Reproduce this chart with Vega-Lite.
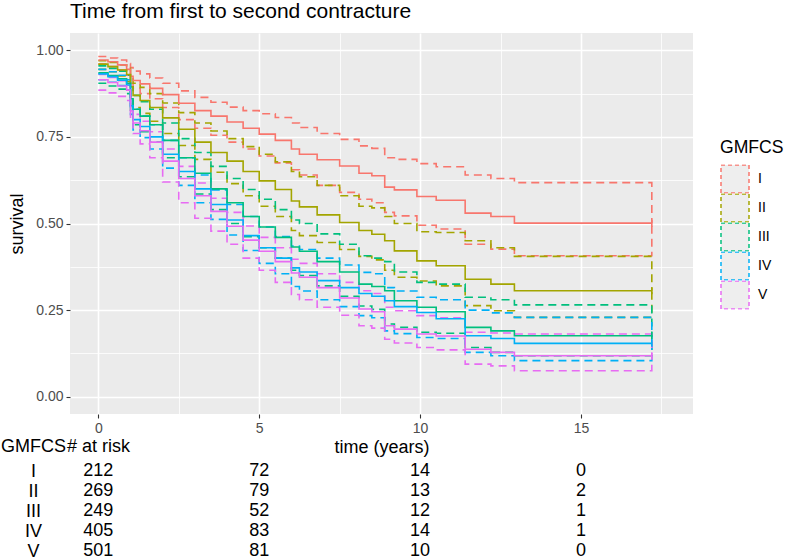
{
"$schema": "https://vega.github.io/schema/vega-lite/v6.json",
"padding": {"left": 0, "top": 1, "right": 0, "bottom": 0},
"background": "white",
"config": {
  "font": "Liberation Sans",
  "view": {"stroke": null},
  "axis": {"labelFont": "Liberation Sans", "titleFont": "Liberation Sans", "titleFontWeight": "normal"}
},
"bounds": "flush",
"spacing": 47,
"title": {"text": "Time from first to second contracture", "anchor": "start", "frame": "group", "fontSize": 21, "fontWeight": "normal", "color": "black", "baseline": "alphabetic", "offset": -6, "font": "Liberation Sans"},
"datasets": {
"risk": [
{"group":"I","t":0,"n":212},{"group":"I","t":5,"n":72},{"group":"I","t":10,"n":14},{"group":"I","t":15,"n":0},
{"group":"II","t":0,"n":269},{"group":"II","t":5,"n":79},{"group":"II","t":10,"n":13},{"group":"II","t":15,"n":2},
{"group":"III","t":0,"n":249},{"group":"III","t":5,"n":52},{"group":"III","t":10,"n":12},{"group":"III","t":15,"n":1},
{"group":"IV","t":0,"n":405},{"group":"IV","t":5,"n":83},{"group":"IV","t":10,"n":14},{"group":"IV","t":15,"n":1},
{"group":"V","t":0,"n":501},{"group":"V","t":5,"n":81},{"group":"V","t":10,"n":10},{"group":"V","t":15,"n":0}
],
"surv": [
{"group":"I","curve":"est","t":0,"s":0.972},{"group":"I","curve":"est","t":0.3,"s":0.967},{"group":"I","curve":"est","t":0.6,"s":0.958},{"group":"I","curve":"est","t":0.88,"s":0.945},{"group":"I","curve":"est","t":1,"s":0.925},{"group":"I","curve":"est","t":1.08,"s":0.913},{"group":"I","curve":"est","t":1.3,"s":0.903},{"group":"I","curve":"est","t":1.6,"s":0.89},{"group":"I","curve":"est","t":2,"s":0.872},{"group":"I","curve":"est","t":2.5,"s":0.847},{"group":"I","curve":"est","t":3,"s":0.826},{"group":"I","curve":"est","t":3.5,"s":0.81},{"group":"I","curve":"est","t":4,"s":0.793},{"group":"I","curve":"est","t":4.5,"s":0.775},{"group":"I","curve":"est","t":5,"s":0.758},{"group":"I","curve":"est","t":5.5,"s":0.74},{"group":"I","curve":"est","t":6,"s":0.715},{"group":"I","curve":"est","t":6.25,"s":0.7},{"group":"I","curve":"est","t":6.8,"s":0.684},{"group":"I","curve":"est","t":7.5,"s":0.666},{"group":"I","curve":"est","t":8.1,"s":0.645},{"group":"I","curve":"est","t":8.5,"s":0.638},{"group":"I","curve":"est","t":8.9,"s":0.605},{"group":"I","curve":"est","t":9.2,"s":0.597},{"group":"I","curve":"est","t":9.9,"s":0.578},{"group":"I","curve":"est","t":10.5,"s":0.567},{"group":"I","curve":"est","t":11.4,"s":0.53},{"group":"I","curve":"est","t":12.2,"s":0.52},{"group":"I","curve":"est","t":12.93,"s":0.501},{"group":"I","curve":"est","t":17.2,"s":0.501},
{"group":"I","curve":"upper","t":0,"s":0.982},{"group":"I","curve":"upper","t":0.3,"s":0.978},{"group":"I","curve":"upper","t":0.6,"s":0.972},{"group":"I","curve":"upper","t":0.88,"s":0.962},{"group":"I","curve":"upper","t":1,"s":0.95},{"group":"I","curve":"upper","t":1.08,"s":0.94},{"group":"I","curve":"upper","t":1.3,"s":0.932},{"group":"I","curve":"upper","t":1.6,"s":0.92},{"group":"I","curve":"upper","t":2,"s":0.905},{"group":"I","curve":"upper","t":2.5,"s":0.883},{"group":"I","curve":"upper","t":3,"s":0.864},{"group":"I","curve":"upper","t":3.5,"s":0.85},{"group":"I","curve":"upper","t":4,"s":0.836},{"group":"I","curve":"upper","t":4.5,"s":0.826},{"group":"I","curve":"upper","t":5,"s":0.817},{"group":"I","curve":"upper","t":5.5,"s":0.806},{"group":"I","curve":"upper","t":6,"s":0.79},{"group":"I","curve":"upper","t":6.25,"s":0.777},{"group":"I","curve":"upper","t":6.8,"s":0.76},{"group":"I","curve":"upper","t":7.5,"s":0.743},{"group":"I","curve":"upper","t":8.1,"s":0.724},{"group":"I","curve":"upper","t":8.5,"s":0.717},{"group":"I","curve":"upper","t":8.9,"s":0.69},{"group":"I","curve":"upper","t":9.2,"s":0.685},{"group":"I","curve":"upper","t":9.9,"s":0.673},{"group":"I","curve":"upper","t":10.5,"s":0.664},{"group":"I","curve":"upper","t":11.4,"s":0.64},{"group":"I","curve":"upper","t":12.2,"s":0.63},{"group":"I","curve":"upper","t":12.93,"s":0.618},{"group":"I","curve":"upper","t":17.2,"s":0.501},
{"group":"I","curve":"lower","t":0,"s":0.96},{"group":"I","curve":"lower","t":0.3,"s":0.953},{"group":"I","curve":"lower","t":0.6,"s":0.943},{"group":"I","curve":"lower","t":0.88,"s":0.928},{"group":"I","curve":"lower","t":1,"s":0.905},{"group":"I","curve":"lower","t":1.08,"s":0.89},{"group":"I","curve":"lower","t":1.3,"s":0.875},{"group":"I","curve":"lower","t":1.6,"s":0.86},{"group":"I","curve":"lower","t":2,"s":0.835},{"group":"I","curve":"lower","t":2.5,"s":0.8},{"group":"I","curve":"lower","t":3,"s":0.775},{"group":"I","curve":"lower","t":3.5,"s":0.755},{"group":"I","curve":"lower","t":4,"s":0.735},{"group":"I","curve":"lower","t":4.5,"s":0.715},{"group":"I","curve":"lower","t":5,"s":0.695},{"group":"I","curve":"lower","t":5.5,"s":0.675},{"group":"I","curve":"lower","t":6,"s":0.655},{"group":"I","curve":"lower","t":6.25,"s":0.64},{"group":"I","curve":"lower","t":6.8,"s":0.61},{"group":"I","curve":"lower","t":7.5,"s":0.59},{"group":"I","curve":"lower","t":8.1,"s":0.57},{"group":"I","curve":"lower","t":8.5,"s":0.56},{"group":"I","curve":"lower","t":8.9,"s":0.532},{"group":"I","curve":"lower","t":9.2,"s":0.522},{"group":"I","curve":"lower","t":9.9,"s":0.495},{"group":"I","curve":"lower","t":10.5,"s":0.484},{"group":"I","curve":"lower","t":11.4,"s":0.44},{"group":"I","curve":"lower","t":12.2,"s":0.426},{"group":"I","curve":"lower","t":12.93,"s":0.407},{"group":"I","curve":"lower","t":17.2,"s":0.501},
{"group":"II","curve":"est","t":0,"s":0.96},{"group":"II","curve":"est","t":0.3,"s":0.953},{"group":"II","curve":"est","t":0.6,"s":0.943},{"group":"II","curve":"est","t":0.88,"s":0.93},{"group":"II","curve":"est","t":1,"s":0.895},{"group":"II","curve":"est","t":1.08,"s":0.87},{"group":"II","curve":"est","t":1.3,"s":0.855},{"group":"II","curve":"est","t":1.6,"s":0.835},{"group":"II","curve":"est","t":2,"s":0.805},{"group":"II","curve":"est","t":2.5,"s":0.772},{"group":"II","curve":"est","t":3,"s":0.735},{"group":"II","curve":"est","t":3.5,"s":0.705},{"group":"II","curve":"est","t":4,"s":0.68},{"group":"II","curve":"est","t":4.5,"s":0.65},{"group":"II","curve":"est","t":5,"s":0.623},{"group":"II","curve":"est","t":5.5,"s":0.598},{"group":"II","curve":"est","t":6,"s":0.565},{"group":"II","curve":"est","t":6.25,"s":0.548},{"group":"II","curve":"est","t":6.8,"s":0.525},{"group":"II","curve":"est","t":7.5,"s":0.503},{"group":"II","curve":"est","t":8.1,"s":0.48},{"group":"II","curve":"est","t":8.5,"s":0.469},{"group":"II","curve":"est","t":8.9,"s":0.45},{"group":"II","curve":"est","t":9.2,"s":0.421},{"group":"II","curve":"est","t":9.9,"s":0.392},{"group":"II","curve":"est","t":10.5,"s":0.378},{"group":"II","curve":"est","t":11.4,"s":0.339},{"group":"II","curve":"est","t":12.2,"s":0.325},{"group":"II","curve":"est","t":12.93,"s":0.306},{"group":"II","curve":"est","t":17.2,"s":0.306},
{"group":"II","curve":"upper","t":0,"s":0.97},{"group":"II","curve":"upper","t":0.3,"s":0.965},{"group":"II","curve":"upper","t":0.6,"s":0.958},{"group":"II","curve":"upper","t":0.88,"s":0.948},{"group":"II","curve":"upper","t":1,"s":0.925},{"group":"II","curve":"upper","t":1.08,"s":0.905},{"group":"II","curve":"upper","t":1.3,"s":0.893},{"group":"II","curve":"upper","t":1.6,"s":0.875},{"group":"II","curve":"upper","t":2,"s":0.848},{"group":"II","curve":"upper","t":2.5,"s":0.82},{"group":"II","curve":"upper","t":3,"s":0.79},{"group":"II","curve":"upper","t":3.5,"s":0.767},{"group":"II","curve":"upper","t":4,"s":0.745},{"group":"II","curve":"upper","t":4.5,"s":0.722},{"group":"II","curve":"upper","t":5,"s":0.7},{"group":"II","curve":"upper","t":5.5,"s":0.678},{"group":"II","curve":"upper","t":6,"s":0.65},{"group":"II","curve":"upper","t":6.25,"s":0.635},{"group":"II","curve":"upper","t":6.8,"s":0.61},{"group":"II","curve":"upper","t":7.5,"s":0.58},{"group":"II","curve":"upper","t":8.1,"s":0.55},{"group":"II","curve":"upper","t":8.5,"s":0.545},{"group":"II","curve":"upper","t":8.9,"s":0.52},{"group":"II","curve":"upper","t":9.2,"s":0.5},{"group":"II","curve":"upper","t":9.9,"s":0.476},{"group":"II","curve":"upper","t":10.5,"s":0.474},{"group":"II","curve":"upper","t":11.4,"s":0.45},{"group":"II","curve":"upper","t":12.2,"s":0.43},{"group":"II","curve":"upper","t":12.93,"s":0.405},{"group":"II","curve":"upper","t":17.2,"s":0.306},
{"group":"II","curve":"lower","t":0,"s":0.945},{"group":"II","curve":"lower","t":0.3,"s":0.938},{"group":"II","curve":"lower","t":0.6,"s":0.926},{"group":"II","curve":"lower","t":0.88,"s":0.91},{"group":"II","curve":"lower","t":1,"s":0.865},{"group":"II","curve":"lower","t":1.08,"s":0.835},{"group":"II","curve":"lower","t":1.3,"s":0.818},{"group":"II","curve":"lower","t":1.6,"s":0.795},{"group":"II","curve":"lower","t":2,"s":0.76},{"group":"II","curve":"lower","t":2.5,"s":0.725},{"group":"II","curve":"lower","t":3,"s":0.685},{"group":"II","curve":"lower","t":3.5,"s":0.648},{"group":"II","curve":"lower","t":4,"s":0.615},{"group":"II","curve":"lower","t":4.5,"s":0.58},{"group":"II","curve":"lower","t":5,"s":0.55},{"group":"II","curve":"lower","t":5.5,"s":0.52},{"group":"II","curve":"lower","t":6,"s":0.48},{"group":"II","curve":"lower","t":6.25,"s":0.465},{"group":"II","curve":"lower","t":6.8,"s":0.445},{"group":"II","curve":"lower","t":7.5,"s":0.425},{"group":"II","curve":"lower","t":8.1,"s":0.405},{"group":"II","curve":"lower","t":8.5,"s":0.395},{"group":"II","curve":"lower","t":8.9,"s":0.365},{"group":"II","curve":"lower","t":9.2,"s":0.345},{"group":"II","curve":"lower","t":9.9,"s":0.334},{"group":"II","curve":"lower","t":10.5,"s":0.32},{"group":"II","curve":"lower","t":11.4,"s":0.263},{"group":"II","curve":"lower","t":12.2,"s":0.248},{"group":"II","curve":"lower","t":12.93,"s":0.229},{"group":"II","curve":"lower","t":17.2,"s":0.306},
{"group":"III","curve":"est","t":0,"s":0.935},{"group":"III","curve":"est","t":0.3,"s":0.927},{"group":"III","curve":"est","t":0.6,"s":0.918},{"group":"III","curve":"est","t":0.88,"s":0.905},{"group":"III","curve":"est","t":1,"s":0.86},{"group":"III","curve":"est","t":1.08,"s":0.83},{"group":"III","curve":"est","t":1.3,"s":0.81},{"group":"III","curve":"est","t":1.6,"s":0.785},{"group":"III","curve":"est","t":2,"s":0.74},{"group":"III","curve":"est","t":2.5,"s":0.69},{"group":"III","curve":"est","t":3,"s":0.645},{"group":"III","curve":"est","t":3.5,"s":0.6},{"group":"III","curve":"est","t":4,"s":0.56},{"group":"III","curve":"est","t":4.5,"s":0.52},{"group":"III","curve":"est","t":5,"s":0.49},{"group":"III","curve":"est","t":5.5,"s":0.46},{"group":"III","curve":"est","t":6,"s":0.432},{"group":"III","curve":"est","t":6.25,"s":0.42},{"group":"III","curve":"est","t":6.8,"s":0.39},{"group":"III","curve":"est","t":7.5,"s":0.36},{"group":"III","curve":"est","t":8.1,"s":0.325},{"group":"III","curve":"est","t":8.5,"s":0.318},{"group":"III","curve":"est","t":8.9,"s":0.306},{"group":"III","curve":"est","t":9.2,"s":0.277},{"group":"III","curve":"est","t":9.9,"s":0.258},{"group":"III","curve":"est","t":10.5,"s":0.245},{"group":"III","curve":"est","t":11.4,"s":0.2},{"group":"III","curve":"est","t":12.2,"s":0.19},{"group":"III","curve":"est","t":12.93,"s":0.176},{"group":"III","curve":"est","t":17.2,"s":0.176},
{"group":"III","curve":"upper","t":0,"s":0.955},{"group":"III","curve":"upper","t":0.3,"s":0.948},{"group":"III","curve":"upper","t":0.6,"s":0.94},{"group":"III","curve":"upper","t":0.88,"s":0.928},{"group":"III","curve":"upper","t":1,"s":0.895},{"group":"III","curve":"upper","t":1.08,"s":0.87},{"group":"III","curve":"upper","t":1.3,"s":0.852},{"group":"III","curve":"upper","t":1.6,"s":0.83},{"group":"III","curve":"upper","t":2,"s":0.79},{"group":"III","curve":"upper","t":2.5,"s":0.745},{"group":"III","curve":"upper","t":3,"s":0.705},{"group":"III","curve":"upper","t":3.5,"s":0.665},{"group":"III","curve":"upper","t":4,"s":0.63},{"group":"III","curve":"upper","t":4.5,"s":0.598},{"group":"III","curve":"upper","t":5,"s":0.57},{"group":"III","curve":"upper","t":5.5,"s":0.54},{"group":"III","curve":"upper","t":6,"s":0.51},{"group":"III","curve":"upper","t":6.25,"s":0.5},{"group":"III","curve":"upper","t":6.8,"s":0.47},{"group":"III","curve":"upper","t":7.5,"s":0.44},{"group":"III","curve":"upper","t":8.1,"s":0.407},{"group":"III","curve":"upper","t":8.5,"s":0.4},{"group":"III","curve":"upper","t":8.9,"s":0.39},{"group":"III","curve":"upper","t":9.2,"s":0.36},{"group":"III","curve":"upper","t":9.9,"s":0.33},{"group":"III","curve":"upper","t":10.5,"s":0.325},{"group":"III","curve":"upper","t":11.4,"s":0.287},{"group":"III","curve":"upper","t":12.2,"s":0.28},{"group":"III","curve":"upper","t":12.93,"s":0.265},{"group":"III","curve":"upper","t":17.2,"s":0.176},
{"group":"III","curve":"lower","t":0,"s":0.905},{"group":"III","curve":"lower","t":0.3,"s":0.897},{"group":"III","curve":"lower","t":0.6,"s":0.888},{"group":"III","curve":"lower","t":0.88,"s":0.875},{"group":"III","curve":"lower","t":1,"s":0.82},{"group":"III","curve":"lower","t":1.08,"s":0.785},{"group":"III","curve":"lower","t":1.3,"s":0.765},{"group":"III","curve":"lower","t":1.6,"s":0.735},{"group":"III","curve":"lower","t":2,"s":0.69},{"group":"III","curve":"lower","t":2.5,"s":0.635},{"group":"III","curve":"lower","t":3,"s":0.585},{"group":"III","curve":"lower","t":3.5,"s":0.54},{"group":"III","curve":"lower","t":4,"s":0.5},{"group":"III","curve":"lower","t":4.5,"s":0.462},{"group":"III","curve":"lower","t":5,"s":0.43},{"group":"III","curve":"lower","t":5.5,"s":0.4},{"group":"III","curve":"lower","t":6,"s":0.365},{"group":"III","curve":"lower","t":6.25,"s":0.35},{"group":"III","curve":"lower","t":6.8,"s":0.32},{"group":"III","curve":"lower","t":7.5,"s":0.29},{"group":"III","curve":"lower","t":8.1,"s":0.262},{"group":"III","curve":"lower","t":8.5,"s":0.252},{"group":"III","curve":"lower","t":8.9,"s":0.21},{"group":"III","curve":"lower","t":9.2,"s":0.2},{"group":"III","curve":"lower","t":9.9,"s":0.186},{"group":"III","curve":"lower","t":10.5,"s":0.183},{"group":"III","curve":"lower","t":11.4,"s":0.142},{"group":"III","curve":"lower","t":12.2,"s":0.128},{"group":"III","curve":"lower","t":12.93,"s":0.118},{"group":"III","curve":"lower","t":17.2,"s":0.176},
{"group":"IV","curve":"est","t":0,"s":0.932},{"group":"IV","curve":"est","t":0.3,"s":0.924},{"group":"IV","curve":"est","t":0.6,"s":0.914},{"group":"IV","curve":"est","t":0.88,"s":0.9},{"group":"IV","curve":"est","t":1,"s":0.84},{"group":"IV","curve":"est","t":1.08,"s":0.8},{"group":"IV","curve":"est","t":1.3,"s":0.78},{"group":"IV","curve":"est","t":1.6,"s":0.75},{"group":"IV","curve":"est","t":2,"s":0.7},{"group":"IV","curve":"est","t":2.5,"s":0.65},{"group":"IV","curve":"est","t":3,"s":0.6},{"group":"IV","curve":"est","t":3.5,"s":0.555},{"group":"IV","curve":"est","t":4,"s":0.51},{"group":"IV","curve":"est","t":4.5,"s":0.465},{"group":"IV","curve":"est","t":5,"s":0.43},{"group":"IV","curve":"est","t":5.5,"s":0.4},{"group":"IV","curve":"est","t":6,"s":0.372},{"group":"IV","curve":"est","t":6.25,"s":0.36},{"group":"IV","curve":"est","t":6.8,"s":0.335},{"group":"IV","curve":"est","t":7.5,"s":0.315},{"group":"IV","curve":"est","t":8.1,"s":0.298},{"group":"IV","curve":"est","t":8.5,"s":0.29},{"group":"IV","curve":"est","t":8.9,"s":0.277},{"group":"IV","curve":"est","t":9.2,"s":0.26},{"group":"IV","curve":"est","t":9.9,"s":0.243},{"group":"IV","curve":"est","t":10.5,"s":0.225},{"group":"IV","curve":"est","t":11.4,"s":0.176},{"group":"IV","curve":"est","t":12.2,"s":0.168},{"group":"IV","curve":"est","t":12.93,"s":0.154},{"group":"IV","curve":"est","t":17.2,"s":0.154},
{"group":"IV","curve":"upper","t":0,"s":0.945},{"group":"IV","curve":"upper","t":0.3,"s":0.938},{"group":"IV","curve":"upper","t":0.6,"s":0.928},{"group":"IV","curve":"upper","t":0.88,"s":0.915},{"group":"IV","curve":"upper","t":1,"s":0.865},{"group":"IV","curve":"upper","t":1.08,"s":0.83},{"group":"IV","curve":"upper","t":1.3,"s":0.81},{"group":"IV","curve":"upper","t":1.6,"s":0.785},{"group":"IV","curve":"upper","t":2,"s":0.74},{"group":"IV","curve":"upper","t":2.5,"s":0.69},{"group":"IV","curve":"upper","t":3,"s":0.64},{"group":"IV","curve":"upper","t":3.5,"s":0.597},{"group":"IV","curve":"upper","t":4,"s":0.555},{"group":"IV","curve":"upper","t":4.5,"s":0.52},{"group":"IV","curve":"upper","t":5,"s":0.49},{"group":"IV","curve":"upper","t":5.5,"s":0.462},{"group":"IV","curve":"upper","t":6,"s":0.435},{"group":"IV","curve":"upper","t":6.25,"s":0.425},{"group":"IV","curve":"upper","t":6.8,"s":0.4},{"group":"IV","curve":"upper","t":7.5,"s":0.38},{"group":"IV","curve":"upper","t":8.1,"s":0.359},{"group":"IV","curve":"upper","t":8.5,"s":0.355},{"group":"IV","curve":"upper","t":8.9,"s":0.315},{"group":"IV","curve":"upper","t":9.2,"s":0.305},{"group":"IV","curve":"upper","t":9.9,"s":0.287},{"group":"IV","curve":"upper","t":10.5,"s":0.28},{"group":"IV","curve":"upper","t":11.4,"s":0.25},{"group":"IV","curve":"upper","t":12.2,"s":0.242},{"group":"IV","curve":"upper","t":12.93,"s":0.229},{"group":"IV","curve":"upper","t":17.2,"s":0.154},
{"group":"IV","curve":"lower","t":0,"s":0.915},{"group":"IV","curve":"lower","t":0.3,"s":0.908},{"group":"IV","curve":"lower","t":0.6,"s":0.898},{"group":"IV","curve":"lower","t":0.88,"s":0.885},{"group":"IV","curve":"lower","t":1,"s":0.815},{"group":"IV","curve":"lower","t":1.08,"s":0.77},{"group":"IV","curve":"lower","t":1.3,"s":0.748},{"group":"IV","curve":"lower","t":1.6,"s":0.715},{"group":"IV","curve":"lower","t":2,"s":0.66},{"group":"IV","curve":"lower","t":2.5,"s":0.61},{"group":"IV","curve":"lower","t":3,"s":0.56},{"group":"IV","curve":"lower","t":3.5,"s":0.512},{"group":"IV","curve":"lower","t":4,"s":0.467},{"group":"IV","curve":"lower","t":4.5,"s":0.422},{"group":"IV","curve":"lower","t":5,"s":0.385},{"group":"IV","curve":"lower","t":5.5,"s":0.355},{"group":"IV","curve":"lower","t":6,"s":0.318},{"group":"IV","curve":"lower","t":6.25,"s":0.305},{"group":"IV","curve":"lower","t":6.8,"s":0.28},{"group":"IV","curve":"lower","t":7.5,"s":0.26},{"group":"IV","curve":"lower","t":8.1,"s":0.234},{"group":"IV","curve":"lower","t":8.5,"s":0.228},{"group":"IV","curve":"lower","t":8.9,"s":0.19},{"group":"IV","curve":"lower","t":9.2,"s":0.182},{"group":"IV","curve":"lower","t":9.9,"s":0.171},{"group":"IV","curve":"lower","t":10.5,"s":0.168},{"group":"IV","curve":"lower","t":11.4,"s":0.128},{"group":"IV","curve":"lower","t":12.2,"s":0.118},{"group":"IV","curve":"lower","t":12.93,"s":0.104},{"group":"IV","curve":"lower","t":17.2,"s":0.154},
{"group":"V","curve":"est","t":0,"s":0.915},{"group":"V","curve":"est","t":0.3,"s":0.907},{"group":"V","curve":"est","t":0.6,"s":0.897},{"group":"V","curve":"est","t":0.88,"s":0.885},{"group":"V","curve":"est","t":1,"s":0.825},{"group":"V","curve":"est","t":1.08,"s":0.79},{"group":"V","curve":"est","t":1.3,"s":0.768},{"group":"V","curve":"est","t":1.6,"s":0.735},{"group":"V","curve":"est","t":2,"s":0.68},{"group":"V","curve":"est","t":2.5,"s":0.63},{"group":"V","curve":"est","t":3,"s":0.58},{"group":"V","curve":"est","t":3.5,"s":0.535},{"group":"V","curve":"est","t":4,"s":0.492},{"group":"V","curve":"est","t":4.5,"s":0.452},{"group":"V","curve":"est","t":5,"s":0.42},{"group":"V","curve":"est","t":5.5,"s":0.39},{"group":"V","curve":"est","t":6,"s":0.357},{"group":"V","curve":"est","t":6.25,"s":0.345},{"group":"V","curve":"est","t":6.8,"s":0.315},{"group":"V","curve":"est","t":7.5,"s":0.285},{"group":"V","curve":"est","t":8.1,"s":0.253},{"group":"V","curve":"est","t":8.5,"s":0.245},{"group":"V","curve":"est","t":8.9,"s":0.205},{"group":"V","curve":"est","t":9.2,"s":0.195},{"group":"V","curve":"est","t":9.9,"s":0.181},{"group":"V","curve":"est","t":10.5,"s":0.175},{"group":"V","curve":"est","t":11.4,"s":0.137},{"group":"V","curve":"est","t":12.2,"s":0.128},{"group":"V","curve":"est","t":12.93,"s":0.118},{"group":"V","curve":"est","t":17.2,"s":0.118},
{"group":"V","curve":"upper","t":0,"s":0.93},{"group":"V","curve":"upper","t":0.3,"s":0.922},{"group":"V","curve":"upper","t":0.6,"s":0.912},{"group":"V","curve":"upper","t":0.88,"s":0.9},{"group":"V","curve":"upper","t":1,"s":0.848},{"group":"V","curve":"upper","t":1.08,"s":0.815},{"group":"V","curve":"upper","t":1.3,"s":0.795},{"group":"V","curve":"upper","t":1.6,"s":0.765},{"group":"V","curve":"upper","t":2,"s":0.715},{"group":"V","curve":"upper","t":2.5,"s":0.665},{"group":"V","curve":"upper","t":3,"s":0.617},{"group":"V","curve":"upper","t":3.5,"s":0.573},{"group":"V","curve":"upper","t":4,"s":0.532},{"group":"V","curve":"upper","t":4.5,"s":0.493},{"group":"V","curve":"upper","t":5,"s":0.46},{"group":"V","curve":"upper","t":5.5,"s":0.43},{"group":"V","curve":"upper","t":6,"s":0.397},{"group":"V","curve":"upper","t":6.25,"s":0.385},{"group":"V","curve":"upper","t":6.8,"s":0.355},{"group":"V","curve":"upper","t":7.5,"s":0.33},{"group":"V","curve":"upper","t":8.1,"s":0.306},{"group":"V","curve":"upper","t":8.5,"s":0.298},{"group":"V","curve":"upper","t":8.9,"s":0.258},{"group":"V","curve":"upper","t":9.2,"s":0.248},{"group":"V","curve":"upper","t":9.9,"s":0.234},{"group":"V","curve":"upper","t":10.5,"s":0.228},{"group":"V","curve":"upper","t":11.4,"s":0.186},{"group":"V","curve":"upper","t":12.2,"s":0.184},{"group":"V","curve":"upper","t":12.93,"s":0.181},{"group":"V","curve":"upper","t":17.2,"s":0.118},
{"group":"V","curve":"lower","t":0,"s":0.885},{"group":"V","curve":"lower","t":0.3,"s":0.877},{"group":"V","curve":"lower","t":0.6,"s":0.867},{"group":"V","curve":"lower","t":0.88,"s":0.855},{"group":"V","curve":"lower","t":1,"s":0.8},{"group":"V","curve":"lower","t":1.08,"s":0.76},{"group":"V","curve":"lower","t":1.3,"s":0.73},{"group":"V","curve":"lower","t":1.6,"s":0.69},{"group":"V","curve":"lower","t":2,"s":0.62},{"group":"V","curve":"lower","t":2.5,"s":0.56},{"group":"V","curve":"lower","t":3,"s":0.515},{"group":"V","curve":"lower","t":3.5,"s":0.478},{"group":"V","curve":"lower","t":4,"s":0.44},{"group":"V","curve":"lower","t":4.5,"s":0.4},{"group":"V","curve":"lower","t":5,"s":0.365},{"group":"V","curve":"lower","t":5.5,"s":0.33},{"group":"V","curve":"lower","t":6,"s":0.295},{"group":"V","curve":"lower","t":6.25,"s":0.28},{"group":"V","curve":"lower","t":6.8,"s":0.258},{"group":"V","curve":"lower","t":7.5,"s":0.235},{"group":"V","curve":"lower","t":8.1,"s":0.205},{"group":"V","curve":"lower","t":8.5,"s":0.198},{"group":"V","curve":"lower","t":8.9,"s":0.166},{"group":"V","curve":"lower","t":9.2,"s":0.155},{"group":"V","curve":"lower","t":9.9,"s":0.142},{"group":"V","curve":"lower","t":10.5,"s":0.135},{"group":"V","curve":"lower","t":11.4,"s":0.094},{"group":"V","curve":"lower","t":12.2,"s":0.089},{"group":"V","curve":"lower","t":12.93,"s":0.075},{"group":"V","curve":"lower","t":17.2,"s":0.118}
]
},
"vconcat": [
{
  "width": 623, "height": 381,
  "view": {"fill": "#EBEBEB", "stroke": null},
  "data": {"name": "surv"},
  "resolve": {"axis": {"x": "independent", "y": "independent"}},
  "layer": [
    {
      "transform": [{"filter": "datum.curve !== 'est'"}],
      "mark": {"type": "line", "interpolate": "step-after", "strokeDash": [8, 5], "strokeWidth": 1.6},
      "encoding": {
        "x": {"field": "t", "type": "quantitative", "scale": {"domain": [-0.88, 18.48], "nice": false, "zero": false},
              "axis": {"orient": "bottom", "values": [2.5, 7.5, 12.5, 17.5], "grid": true, "gridColor": "white", "gridWidth": 0.8, "labels": false, "ticks": false, "tickSize": 0, "domain": false, "title": null}},
        "y": {"field": "s", "type": "quantitative", "scale": {"domain": [-0.05, 1.05], "nice": false, "zero": false},
              "axis": {"orient": "left", "values": [0.125, 0.375, 0.625, 0.875], "grid": true, "gridColor": "white", "gridWidth": 0.8, "labels": false, "ticks": false, "tickSize": 0, "domain": false, "title": null}},
        "color": {"field": "group", "type": "nominal",
                  "scale": {"domain": ["I", "II", "III", "IV", "V"], "range": ["#F8766D", "#A3A500", "#00BF7D", "#00B0F6", "#E76BF3"]},
                  "legend": {"orient": "none", "legendX": 650, "legendY": 106, "title": "GMFCS", "titleFont": "Liberation Sans", "titleFontSize": 17.6, "titleFontWeight": "normal", "titleColor": "black", "titlePadding": 8,
                             "symbolType": "square", "symbolSize": 784, "symbolStrokeWidth": 1.5, "symbolDash": [4, 3], "symbolFillColor": "#EEEEEE", "symbolOpacity": 1,
                             "labelFont": "Liberation Sans", "labelFontSize": 14, "labelColor": "black", "labelOffset": 8, "rowPadding": 0, "padding": 0, "clipHeight": 29,
                             "encode": {"symbols": {"update": {"fill": {"value": "#EEEEEE"}, "strokeDash": {"value": [4, 3]}}}}}},
        "detail": {"field": "curve"}
      }
    },
    {
      "transform": [{"filter": "datum.curve === 'est'"}],
      "mark": {"type": "line", "interpolate": "step-after", "strokeWidth": 1.6},
      "encoding": {
        "x": {"field": "t", "type": "quantitative",
              "axis": {"orient": "bottom", "values": [0, 5, 10, 15], "grid": true, "gridColor": "white", "gridWidth": 1.6, "domain": false,
                       "tickSize": 4, "tickColor": "#333333", "tickWidth": 1.1, "labelColor": "#4D4D4D", "labelFontSize": 14, "labelPadding": 3,
                       "title": "time (years)", "titleFontSize": 18, "titleColor": "black", "titlePadding": 3}},
        "y": {"field": "s", "type": "quantitative",
              "axis": {"orient": "left", "values": [0, 0.25, 0.5, 0.75, 1], "format": ".2f", "grid": true, "gridColor": "white", "gridWidth": 1.6, "domain": false,
                       "tickSize": 4, "tickColor": "#333333", "tickWidth": 1.1, "labelColor": "#4D4D4D", "labelFontSize": 14, "labelPadding": 3,
                       "title": "survival", "titleFontSize": 18, "titleColor": "black", "titlePadding": 9}},
        "color": {"field": "group", "type": "nominal"}
      }
    },
    {
      "transform": [{"filter": "datum.curve === 'est' && datum.t === 17.2"}],
      "mark": {"type": "point", "shape": "M0,-1L0,1", "filled": false, "size": 49, "strokeWidth": 1.6, "opacity": 1},
      "encoding": {
        "x": {"field": "t", "type": "quantitative", "axis": null},
        "y": {"field": "s", "type": "quantitative", "axis": null},
        "stroke": {"field": "group", "type": "nominal", "scale": {"domain": ["I", "II", "III", "IV", "V"], "range": ["#F8766D", "#A3A500", "#00BF7D", "#00B0F6", "#E76BF3"]}, "legend": null}
      }
    }
  ]
},
{
  "width": 623, "height": 100,
  "data": {"name": "risk"},
  "mark": {"type": "text", "fontSize": 18, "color": "black", "font": "Liberation Sans"},
  "encoding": {
    "x": {"field": "t", "type": "quantitative", "scale": {"domain": [-0.88, 18.48], "nice": false, "zero": false},
          "axis": {"orient": "top", "labels": false, "ticks": false, "tickSize": 0, "domain": false, "grid": false,
                   "title": "# at risk", "titleX": 28, "titleY": -15, "titleBaseline": "middle", "titleAlign": "center", "titleAngle": 0, "titleFontSize": 18, "titleColor": "black"}},
    "y": {"field": "group", "type": "nominal", "scale": {"domain": ["I", "II", "III", "IV", "V"], "paddingInner": 0, "paddingOuter": 0},
          "axis": {"orient": "left", "ticks": false, "tickSize": 0, "domain": false, "grid": false, "labelAlign": "center", "labelPadding": 37, "labelFontSize": 18, "labelColor": "black",
                   "title": "GMFCS", "titleX": -37, "titleY": -15, "titleAngle": 0, "titleAlign": "center", "titleBaseline": "middle", "titleFontSize": 18, "titleColor": "black"}},
    "text": {"field": "n", "type": "quantitative"}
  }
}
]
}
